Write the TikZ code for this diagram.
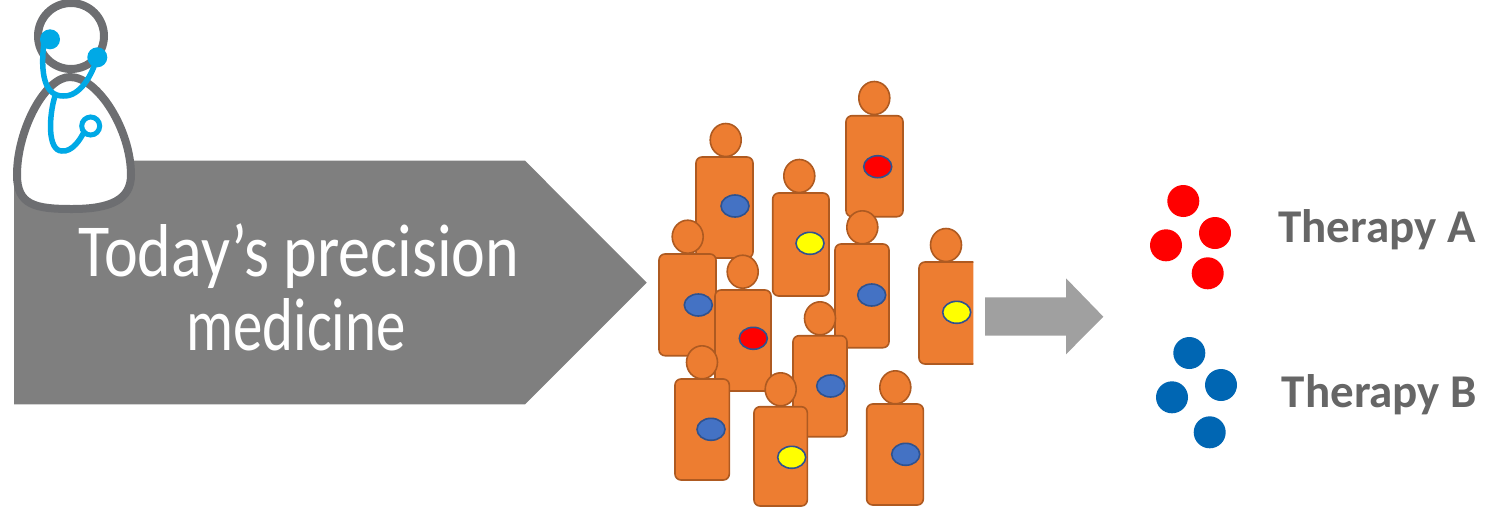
\documentclass[tikz,border=0pt]{standalone}
\usepackage{fontspec}
\setmainfont{Carlito}
\definecolor{bannergray}{HTML}{7F7F7F}
\definecolor{arrowgray}{HTML}{A0A0A0}
\definecolor{docgray}{HTML}{6D6E71}
\definecolor{stethblue}{HTML}{00A9E6}
\definecolor{skin}{HTML}{ED7D31}
\definecolor{skinedge}{HTML}{AE5A21}
\definecolor{markblue}{HTML}{4472C4}
\definecolor{markedge}{HTML}{2F528F}
\definecolor{markred}{HTML}{FF0000}
\definecolor{markyellow}{HTML}{FFFF00}
\definecolor{pillred}{HTML}{FF0000}
\definecolor{pillblue}{HTML}{0066B3}
\definecolor{labelgray}{HTML}{666666}
% one patient: body corners (#1,#2)-(#3,#4), head centre (#5,#6), marker centre (#7,#8), marker colour #9
\newcommand{\patient}[9]{%
  \draw[patientbody] (#1,#2) rectangle (#3,#4);
  \draw[patientbody] (#5,#6) ellipse [x radius=15.5, y radius=16.5];
  \draw[marker, fill=#9] (#7,#8) ellipse [x radius=14, y radius=11];
}
\begin{document}
\begin{tikzpicture}[x=1pt,y=-1pt,
  patientbody/.style={fill=skin, draw=skinedge, line width=1.6pt, rounded corners=6pt},
  marker/.style={draw=markedge, line width=1.6pt},
  pill/.style={circle, minimum size=32pt, inner sep=0pt},
  steth/.style={draw=stethblue, line width=5.5pt, line cap=round},
  therapy/.style={font=\fontsize{47}{56}\selectfont\bfseries, text=labelgray, anchor=base west, inner sep=0pt},
  banner/.style={font=\fontsize{64}{73}\selectfont, text=white, anchor=base, inner sep=0pt}]
\useasboundingbox (0,0) rectangle (1493,507);

% banner pentagon with its caption
\fill[bannergray] (14,160.7) -- (525,160.7) -- (646.7,282.7) -- (525,404.3) -- (14,404.3) -- cycle;
\node[banner] (caption1) at (299,276.7) {\scalebox{1}[1.17]{Today’s precision}};
\node[banner] (caption2) at (296,350) {\scalebox{0.92}[1.17]{medicine}};

% doctor icon
\draw[docgray, line width=8pt, fill=white]
  (70,77) .. controls (45,77) and (17,130) .. (17,175)
  .. controls (17,205) and (35,209) .. (72,209)
  .. controls (110,209) and (131,200) .. (131,175)
  .. controls (131,130) and (98,77) .. (70,77) -- cycle;
\draw[docgray, line width=8pt] (71,36) circle [radius=33];
\draw[steth] (44,42) .. controls (40,75) and (45,96) .. (63,96)
  .. controls (80,97) and (92,75) .. (97,58);
\draw[steth] (55,96) .. controls (49,115) and (47,151) .. (62,151)
  .. controls (72,152) and (80,140) .. (84,132);
\draw[draw=stethblue, line width=5pt] (90.7,126) circle [radius=9];
\fill[stethblue] (50,39.3) circle [radius=10];
\fill[stethblue] (97.3,57.3) circle [radius=10];

% crowd of patients
\patient{696}{157}{753}{258}{725.7}{140}{735}{206}{markblue}
\patient{846}{115.7}{903}{216.7}{874.3}{98}{877.7}{166.7}{markred}
\patient{772.7}{193}{829}{296}{799.3}{176}{810}{243.3}{markyellow}
\patient{659}{254}{716}{355.7}{687.7}{236.7}{698.3}{305}{markblue}
\patient{715}{290}{771}{391}{742.7}{271.7}{753.3}{338.3}{markred}
\patient{835}{244}{889}{347.7}{862.3}{227.3}{871.7}{295}{markblue}
\begin{scope}
  \clip (900,200) rectangle (973.3,400);
  \patient{919}{262}{982}{364}{946}{245}{956.7}{312.3}{markyellow}
\end{scope}
\patient{793}{335.7}{847}{436.7}{820}{318.3}{830.7}{386}{markblue}
\patient{675}{379}{729.3}{480}{702}{362.3}{711}{429.3}{markblue}
\patient{754}{406.7}{807.3}{506}{780.7}{389.3}{791.7}{457.3}{markyellow}
\patient{866.7}{404}{923.3}{505}{895.3}{387.3}{905.7}{454.3}{markblue}

% block arrow
\fill[arrowgray] (985,297.3) -- (1066,297.3) -- (1066,278.3) -- (1103.3,316.7)
  -- (1066,354.3) -- (1066,335.7) -- (985,335.7) -- cycle;

% therapy A pills
\node[pill, fill=pillred] (a1) at (1183.3,201) {};
\node[pill, fill=pillred] (a2) at (1215,233) {};
\node[pill, fill=pillred] (a3) at (1166,245.3) {};
\node[pill, fill=pillred] (a4) at (1207.7,273.3) {};
% therapy B pills
\node[pill, fill=pillblue] (b1) at (1189.3,353) {};
\node[pill, fill=pillblue] (b2) at (1221,385) {};
\node[pill, fill=pillblue] (b3) at (1172,397.3) {};
\node[pill, fill=pillblue] (b4) at (1209.7,432.3) {};

\node[therapy] (labelA) at (1278,242.7) {Therapy A};
\node[therapy] (labelB) at (1281.7,407.3) {Therapy B};
\end{tikzpicture}
\end{document}
